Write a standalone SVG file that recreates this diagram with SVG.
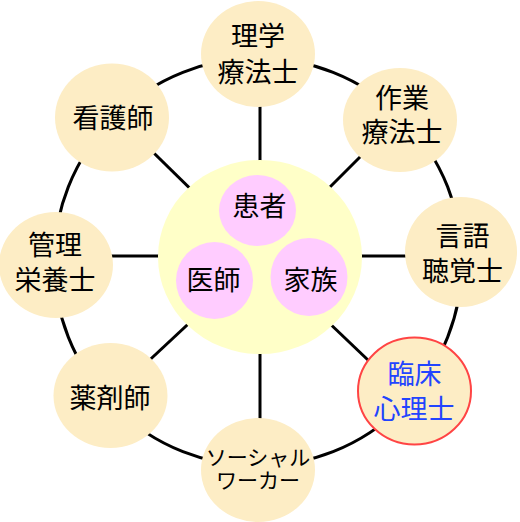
<svg xmlns="http://www.w3.org/2000/svg" width="520" height="522" viewBox="0 0 520 522">
<style>
.node{fill:#fdedc5;}
.inner{fill:#ffccff;}
.t{font-family:"Noto Sans CJK JP","Noto Sans",sans-serif;font-size:27px;fill:#000;text-anchor:middle;}
.s{font-size:21px;}
.blue{fill:#2244ff;}
.conn{stroke:#000;stroke-width:3;fill:none;}
</style>
<rect width="520" height="522" fill="#fff"/>
<g id="connectors">
<circle class="conn" cx="258" cy="262" r="204"/>
<line class="conn" x1="260" y1="257" x2="260" y2="60"/>
<line class="conn" x1="260" y1="257" x2="260" y2="460"/>
<line class="conn" x1="260" y1="256" x2="460" y2="256"/>
<line class="conn" x1="260" y1="256" x2="56" y2="256"/>
<line class="conn" x1="260" y1="257" x2="112" y2="112"/>
<line class="conn" x1="260" y1="257" x2="405" y2="112"/>
<line class="conn" x1="260" y1="257" x2="110" y2="397"/>
<line class="conn" x1="260" y1="257" x2="412" y2="402"/>
</g>
<g id="center">
<ellipse cx="260" cy="257" rx="102" ry="97" fill="#ffffc8"/>
</g>
<g id="patient">
<ellipse class="inner" cx="257.5" cy="210.5" rx="38.5" ry="35.5"/>
<text class="t" x="259.5" y="215.5">患者</text>
</g>
<g id="doctor">
<ellipse class="inner" cx="214.5" cy="280.5" rx="38.5" ry="38.5"/>
<text class="t" x="213.5" y="289.5">医師</text>
</g>
<g id="family">
<ellipse class="inner" cx="309" cy="277" rx="38.5" ry="39"/>
<text class="t" x="310.5" y="290">家族</text>
</g>
<g id="pt">
<ellipse class="node" cx="258" cy="54" rx="57" ry="53"/>
<text class="t" x="258" y="46">理学</text>
<text class="t" x="258" y="81.5">療法士</text>
</g>
<g id="ot">
<ellipse class="node" cx="400" cy="120" rx="57" ry="52"/>
<text class="t" x="402" y="107.5">作業</text>
<text class="t" x="402" y="141.5">療法士</text>
</g>
<g id="st">
<ellipse class="node" cx="461" cy="252" rx="56" ry="55"/>
<text class="t" x="462.5" y="245.5">言語</text>
<text class="t" x="462.5" y="280.5">聴覚士</text>
</g>
<g id="cp">
<ellipse class="node" cx="414.5" cy="391" rx="56.5" ry="53.5" stroke="#ff4444" stroke-width="2"/>
<text class="t blue" x="414.5" y="383.5">臨床</text>
<text class="t blue" x="414" y="418.5">心理士</text>
</g>
<g id="sw">
<ellipse class="node" cx="258" cy="470" rx="57" ry="52"/>
<text class="t s" x="258" y="465">ソーシャル</text>
<text class="t s" x="258" y="488">ワーカー</text>
</g>
<g id="ph">
<ellipse class="node" cx="110.5" cy="395.5" rx="57" ry="52.5"/>
<text class="t" x="110" y="407.5">薬剤師</text>
</g>
<g id="rd">
<ellipse class="node" cx="56" cy="265" rx="57" ry="53"/>
<text class="t" x="55" y="254.5">管理</text>
<text class="t" x="55" y="289.5">栄養士</text>
</g>
<g id="ns">
<ellipse class="node" cx="112" cy="117.5" rx="57" ry="54"/>
<text class="t" x="113" y="127.5">看護師</text>
</g>
</svg>
